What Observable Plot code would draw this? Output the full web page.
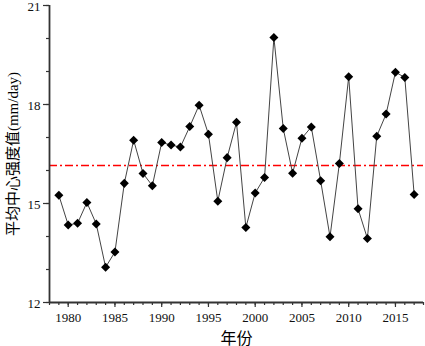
<!DOCTYPE html>
<html>
<head>
<meta charset="utf-8">
<script src="https://cdn.jsdelivr.net/npm/d3@7"></script>
<script src="https://cdn.jsdelivr.net/npm/@observablehq/plot@0.6"></script>
<style>
  html, body { margin: 0; padding: 0; background: #fff; }
  #chart svg { display: block; }
</style>
</head>
<body>
<div id="chart"></div>
<script>
const years = d3.range(1979, 2018);
const values = [
  15.25, 14.35, 14.40, 15.03, 14.38, 13.07, 13.53, 15.61, 16.92, 15.91,
  15.54, 16.85, 16.77, 16.71, 17.33, 17.98, 17.10, 15.07, 16.39, 17.46,
  14.27, 15.32, 15.79, 20.03, 17.27, 15.92, 16.98, 17.32, 15.69, 13.99,
  16.21, 18.84, 14.84, 13.94, 17.04, 17.71, 18.98, 18.82, 15.27
];
const meanLine = [16.15];
const xMajorTicks = [1980, 1985, 1990, 1995, 2000, 2005, 2010, 2015];
const xMinorTicks = d3.range(1978, 2019);
const yMajorTicks = [12, 15, 18, 21];
const yMinorTicks = d3.range(12, 22);
const xTitle = "年份";
const yTitle = "平均中心强度值(mm/day)";

const data = years.map((y, i) => ({year: y, value: values[i]}));

const serif = "'Liberation Serif', 'DejaVu Serif', serif";
const cjk = "'Liberation Serif', 'Noto Sans CJK SC', sans-serif";
const axisColor = "#333";
const blank = () => "";
const chart = Plot.plot({
  width: 425,
  height: 346,
  marginLeft: 49,
  marginRight: 2,
  marginTop: 5,
  marginBottom: 44,
  style: {fontFamily: serif, fontSize: "13px", color: "#000", background: "#fff"},
  x: {domain: [1978, 2018]},
  y: {domain: [12, 21]},
  marks: [
    Plot.ruleY(meanLine, {stroke: "red", strokeWidth: 1.5, strokeDasharray: "8,3,2,3"}),
    Plot.line(data, {x: "year", y: "value", stroke: "#444", strokeWidth: 1}),
    Plot.dot(data, {x: "year", y: "value", symbol: "square", rotate: 45, r: 3.6, fill: "#000", stroke: "none"}),
    Plot.axisX(xMinorTicks, {tickSize: 3, tickFormat: blank, stroke: axisColor, strokeWidth: 1.2, label: null}),
    Plot.axisX(xMajorTicks, {tickSize: 5, tickFormat: blank, stroke: axisColor, strokeWidth: 1.2, label: null}),
    Plot.axisY(yMinorTicks, {tickSize: 3, tickFormat: blank, stroke: axisColor, strokeWidth: 1.2, label: null}),
    Plot.axisY(yMajorTicks, {tickSize: 6, tickFormat: blank, stroke: axisColor, strokeWidth: 1.2, label: null}),
    Plot.text(xMajorTicks, {x: d => d, frameAnchor: "bottom", lineAnchor: "top", dy: 10, text: d => String(d), fontSize: 13, fontFamily: serif, fill: "#111"}),
    Plot.text(yMajorTicks, {y: d => d, frameAnchor: "left", textAnchor: "end", dx: -9, dy: 1, text: d => String(d), fontSize: 13, fontFamily: serif, fill: "#111"}),
    Plot.ruleX([1978], {stroke: axisColor, strokeWidth: 1.8}),
    Plot.ruleY([12], {stroke: axisColor, strokeWidth: 1.8}),
    Plot.text([xTitle], {frameAnchor: "bottom", lineAnchor: "middle", dy: 36, fontSize: 16, fontFamily: cjk, fill: "#000"}),
    Plot.text([yTitle], {frameAnchor: "left", textAnchor: "middle", dx: -36, rotate: -90, fontSize: 15, fontFamily: cjk, fill: "#000"})
  ]
});
document.getElementById("chart").appendChild(chart);
</script>
</body>
</html>
